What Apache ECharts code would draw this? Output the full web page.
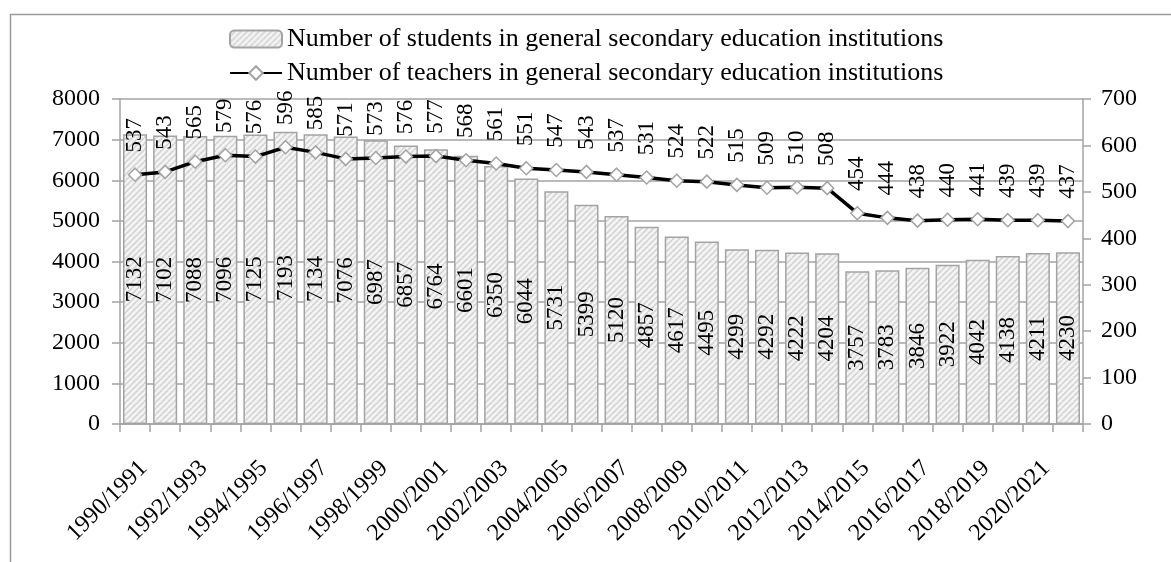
<!DOCTYPE html>
<html>
<head>
<meta charset="utf-8">
<script src="https://cdn.jsdelivr.net/npm/echarts@6/dist/echarts.min.js"></script>
<style>
  html, body { margin: 0; padding: 0; background: #fff; }
  #chart { width: 1171px; height: 562px; }
</style>
</head>
<body>
<div id="chart"></div>
<script>
// School years
const years = [
  '1990/1991','1991/1992','1992/1993','1993/1994','1994/1995','1995/1996','1996/1997','1997/1998',
  '1998/1999','1999/2000','2000/2001','2001/2002','2002/2003','2003/2004','2004/2005','2005/2006',
  '2006/2007','2007/2008','2008/2009','2009/2010','2010/2011','2011/2012','2012/2013','2013/2014',
  '2014/2015','2015/2016','2016/2017','2017/2018','2018/2019','2019/2020','2020/2021','2021/2022'
];

// Students (left axis)
const students = [
  7132, 7102, 7088, 7096, 7125, 7193, 7134, 7076,
  6987, 6857, 6764, 6601, 6350, 6044, 5731, 5399,
  5120, 4857, 4617, 4495, 4299, 4292, 4222, 4204,
  3757, 3783, 3846, 3922, 4042, 4138, 4211, 4230
];

// Teachers (right axis)
const teachers = [
  537, 543, 565, 579, 576, 596, 585, 571,
  573, 576, 577, 568, 561, 551, 547, 543,
  537, 531, 524, 522, 515, 509, 510, 508,
  454, 444, 438, 440, 441, 439, 439, 437
];

const studentsName = 'Number of students in general secondary education institutions';
const teachersName = 'Number of teachers in general secondary education institutions';

// Diagonal hatch fill for the bars
function hatch() {
  const s = 6;
  const c = document.createElement('canvas');
  c.width = s; c.height = s;
  const g = c.getContext('2d');
  g.fillStyle = '#f4f4f4';
  g.fillRect(0, 0, s, s);
  g.strokeStyle = '#d4d4d4';
  g.lineWidth = 1.6;
  for (let k = -1; k <= 1; k++) {
    g.beginPath();
    g.moveTo(k * s, s);
    g.lineTo(k * s + s, 0);
    g.stroke();
  }
  return c;
}

const font = 'Liberation Serif';
const grey = '#a3a3a3';
const axisFs = 24;
const valueFs = 23;
const legendFs = 26;
const plain = v => String(v);

const chart = echarts.init(document.getElementById('chart'));
chart.setOption({
  animation: false,
  textStyle: { fontFamily: font, color: '#000' },
  graphic: [{
    type: 'rect',
    left: 8, top: 12,
    shape: { width: 1200, height: 600 },
    style: { fill: 'none', stroke: '#9a9a9a', lineWidth: 1.5 },
    silent: true
  }],
  legend: {
    orient: 'vertical',
    left: 224, top: 21,
    itemWidth: 52, itemHeight: 17, itemGap: 8,
    textStyle: { fontFamily: font, fontSize: legendFs, color: '#000' },
    data: [studentsName, teachersName]
  },
  grid: { left: 120, right: 88, top: 99, bottom: 138 },
  xAxis: {
    type: 'category',
    data: years,
    axisLine: { lineStyle: { color: grey, width: 1.5 } },
    axisTick: { show: true, interval: 0, alignWithLabel: false, length: 8, lineStyle: { color: grey, width: 1.5 } },
    axisLabel: {
      interval: 1, rotate: 45, margin: 32, verticalAlign: 'top',
      fontFamily: font, fontSize: axisFs, color: '#000'
    }
  },
  yAxis: [{
    type: 'value',
    min: 0, max: 8000, interval: 1000,
    axisLine: { show: true, lineStyle: { color: grey, width: 1.5 } },
    axisTick: { show: true, length: 8, lineStyle: { color: grey, width: 1.5 } },
    splitLine: { lineStyle: { color: grey, width: 1.5 } },
    axisLabel: { fontFamily: font, fontSize: axisFs, color: '#000', margin: 20, formatter: plain }
  }, {
    type: 'value',
    position: 'right',
    min: 0, max: 700, interval: 100,
    axisLine: { show: true, lineStyle: { color: grey, width: 1.5 } },
    axisTick: { show: true, length: 8, lineStyle: { color: grey, width: 1.5 } },
    splitLine: { show: false },
    axisLabel: { fontFamily: font, fontSize: axisFs, color: '#000', margin: 18, formatter: plain }
  }],
  series: [{
    name: studentsName,
    type: 'bar',
    data: students,
    barCategoryGap: '20%',
    itemStyle: {
      color: { image: hatch(), repeat: 'repeat' },
      borderColor: grey,
      borderWidth: 1.5
    },
    label: {
      show: true,
      position: 'inside',
      rotate: 90,
      fontFamily: font, fontSize: valueFs, color: '#000'
    }
  }, {
    name: teachersName,
    type: 'line',
    yAxisIndex: 1,
    data: teachers,
    symbol: 'diamond',
    symbolSize: 13,
    lineStyle: { color: '#000', width: 3.5 },
    itemStyle: { color: '#fff', borderColor: grey, borderWidth: 1.5 },
    label: {
      show: true,
      position: 'top',
      distance: 15,
      rotate: 90,
      align: 'left',
      verticalAlign: 'middle',
      fontFamily: font, fontSize: valueFs, color: '#000'
    },
    z: 5
  }]
});
</script>
</body>
</html>
